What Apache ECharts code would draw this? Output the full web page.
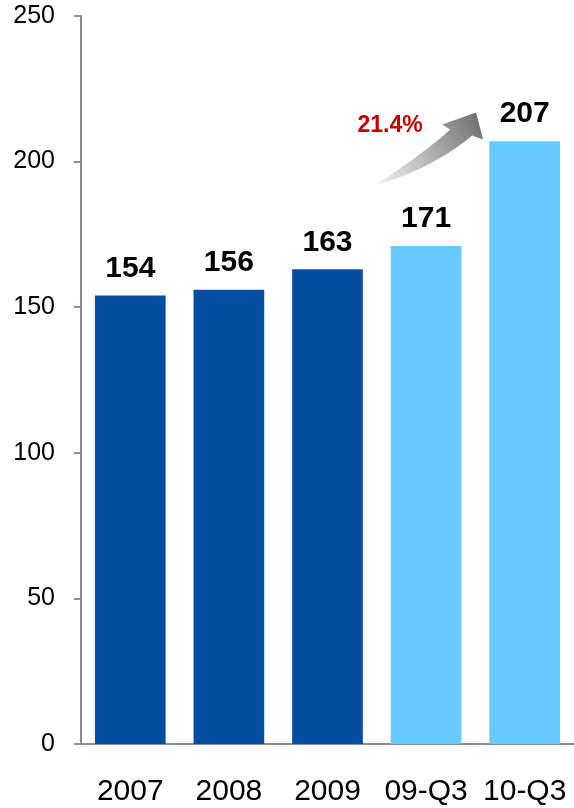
<!DOCTYPE html>
<html>
<head>
<meta charset="utf-8">
<script src="https://cdn.jsdelivr.net/npm/echarts@6/dist/echarts.min.js"></script>
<style>
  html, body { margin: 0; padding: 0; background: #fff; }
  #chart { width: 574px; height: 808px; }
</style>
</head>
<body>
<div id="chart"></div>
<script>
// Categories and values
var categories = ['2007', '2008', '2009', '09-Q3', '10-Q3'];
var values = [154, 156, 163, 171, 207];
var barColors = ['#034ea2', '#034ea2', '#034ea2', '#66ccff', '#66ccff'];
var growthLabel = '21.4%';
var yTicks = { min: 0, max: 250, interval: 50 };

var FONT = '"Liberation Sans", Arial, sans-serif';
var chart = echarts.init(document.getElementById('chart'), null, { renderer: 'canvas' });

var option = {
  animation: false,
  backgroundColor: '#ffffff',
  grid: { left: 81, top: 16, width: 495, height: 728, containLabel: false },
  xAxis: {
    type: 'category',
    data: categories,
    axisLine: { show: true, lineStyle: { color: '#8c8c8c', width: 2 } },
    axisTick: { show: false },
    axisLabel: { color: '#000', fontFamily: FONT, fontSize: 30, margin: 33, interval: 0 }
  },
  yAxis: {
    type: 'value',
    min: yTicks.min,
    max: yTicks.max,
    interval: yTicks.interval,
    splitLine: { show: false },
    axisLine: { show: true, lineStyle: { color: '#8c8c8c', width: 2 } },
    axisTick: { show: true, inside: false, length: 7, lineStyle: { color: '#8c8c8c', width: 2 } },
    axisLabel: { color: '#000', fontFamily: FONT, fontSize: 25, margin: 26 }
  },
  series: [{
    type: 'bar',
    data: values.map(function (v, i) {
      return { value: v, itemStyle: { color: barColors[i] } };
    }),
    barCategoryGap: '28.3%',
    label: {
      show: true,
      position: 'top',
      distance: 12,
      color: '#000',
      fontFamily: FONT,
      fontWeight: 'bold',
      fontSize: 30
    }
  }]
};
chart.setOption(option);

// Growth annotation: curved gradient arrow between the last two periods
var anchor = chart.convertToPixel({ gridIndex: 0 }, [categories[3], 200]);
var ax = anchor[0], ay = anchor[1];

// sample a quadratic curve into points
function quad(p0, c, p1, n) {
  var pts = [];
  for (var i = 0; i <= n; i++) {
    var t = i / n, u = 1 - t;
    pts.push([
      ax + u * u * p0[0] + 2 * u * t * c[0] + t * t * p1[0],
      ay + u * u * p0[1] + 2 * u * t * c[1] + t * t * p1[1]
    ]);
  }
  return pts;
}
var tail = [-52, 24];
var upper = quad(tail, [-5, -6], [24, -32], 24);
var head = [[16, -37], [50, -49], [57, -22], [46, -26]].map(function (d) {
  return [ax + d[0], ay + d[1]];
});
var lower = quad([46, -26], [5, 8], tail, 24).slice(1);
var arrowPoints = upper.concat(head, lower);

chart.setOption({
  graphic: [
    {
      type: 'polygon',
      shape: { points: arrowPoints },
      style: {
        fill: new echarts.graphic.LinearGradient(0, 1, 1, 0, [
          { offset: 0, color: '#f6f6f6' },
          { offset: 0.5, color: '#b0b0b0' },
          { offset: 1, color: '#6a6a6a' }
        ])
      },
      z: 10
    },
    {
      type: 'text',
      x: ax - 36,
      y: ay - 36,
      style: {
        text: growthLabel,
        fill: '#c00000',
        font: 'bold 23px ' + FONT,
        textAlign: 'center',
        textVerticalAlign: 'middle'
      },
      z: 10
    }
  ]
});
</script>
</body>
</html>
